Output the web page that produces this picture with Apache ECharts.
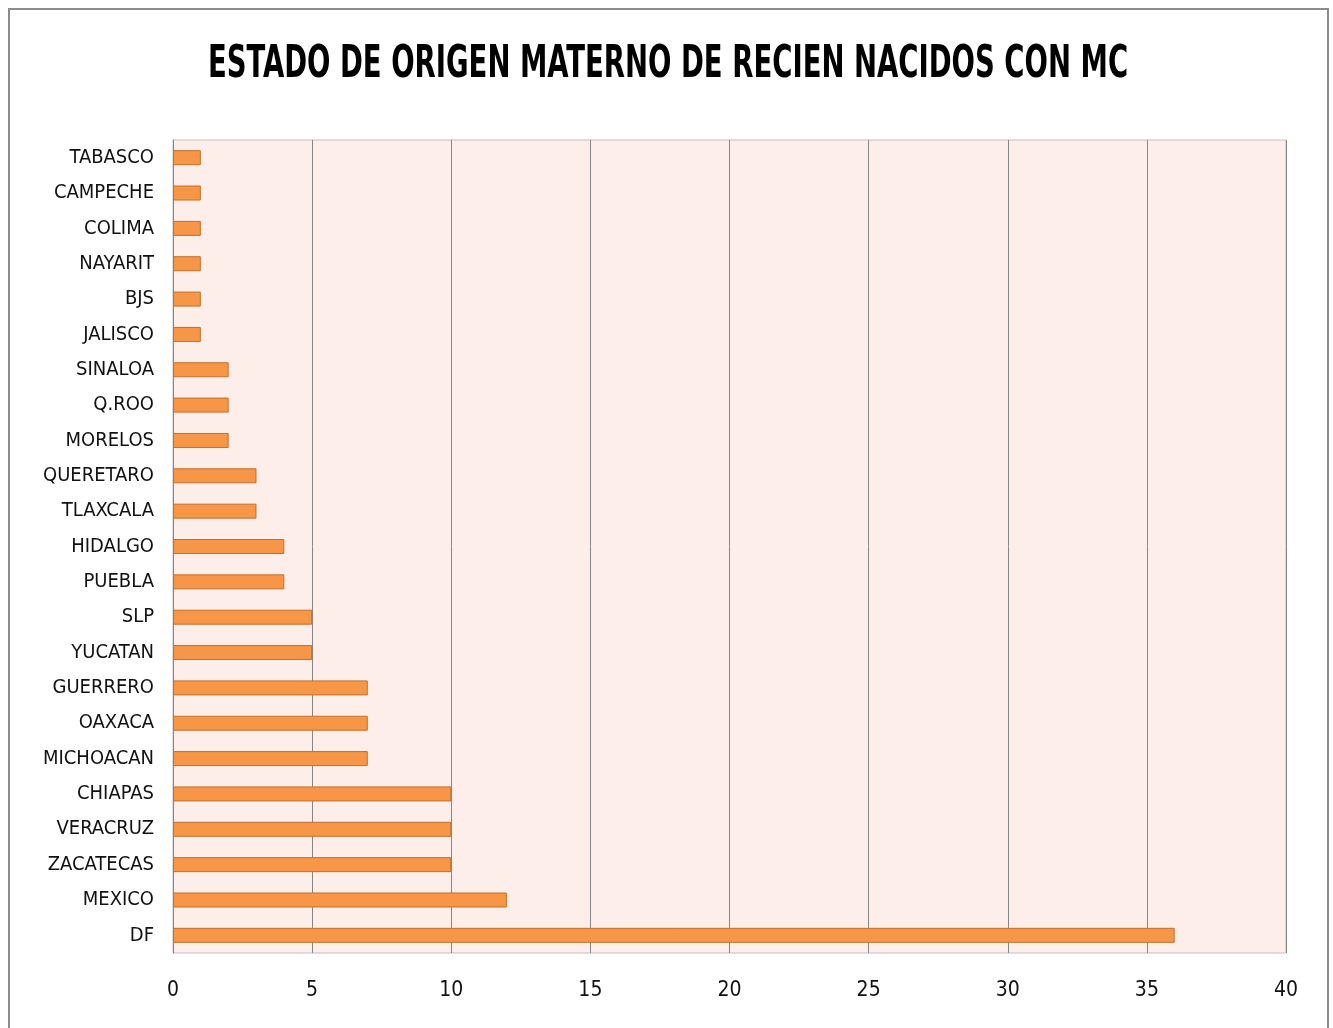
<!DOCTYPE html>
<html>
<head>
<meta charset="utf-8">
<script src="https://cdn.jsdelivr.net/npm/echarts@6/dist/echarts.min.js"></script>
<style>
html,body{margin:0;padding:0;background:#fff;}
#wrap{position:absolute;left:8px;top:8px;width:1321px;height:1030px;border:2px solid #8c8c8c;box-sizing:border-box;}
#chart{position:absolute;left:0;top:0;width:1333px;height:1028px;}
</style>
</head>
<body>
<div id="wrap"></div>
<div id="chart"></div>
<script>
// categories listed from bottom to top
var categories = ["DF","MEXICO","ZACATECAS","VERACRUZ","CHIAPAS","MICHOACAN","OAXACA","GUERRERO","YUCATAN","SLP","PUEBLA","HIDALGO","TLAXCALA","QUERETARO","MORELOS","Q.ROO","SINALOA","JALISCO","BJS","NAYARIT","COLIMA","CAMPECHE","TABASCO"];
var values = [36,12,10,10,10,7,7,7,5,5,4,4,3,3,2,2,2,1,1,1,1,1,1];
var xTicks = [0,5,10,15,20,25,30,35,40];
var titleText = "ESTADO DE ORIGEN MATERNO DE RECIEN NACIDOS CON MC";

var chart = echarts.init(document.getElementById('chart'));
var font = '"Liberation Sans Narrow","Arial Narrow","DejaVu Sans Condensed",sans-serif';
chart.setOption({
  animation:false,
  backgroundColor:'transparent',
  graphic:[{
    type:'text', x:668, y:66, scaleX:0.695, scaleY:1,
    style:{text:titleText, fontFamily:font, fontWeight:'bold', fontSize:44, fill:'#000', textAlign:'center', textVerticalAlign:'middle'}
  }],
  grid:{left:173,right:47,top:140,bottom:75,show:true,backgroundColor:'#FDEEEA',borderColor:'#BFBFBF',borderWidth:1},
  xAxis:{
    type:'value',min:xTicks[0],max:xTicks[xTicks.length-1],interval:5,
    axisLine:{show:false},axisTick:{show:false},
    axisLabel:{fontFamily:font,fontSize:21,color:'#111',margin:27},
    splitLine:{show:true,lineStyle:{color:'#868686',width:1}}
  },
  yAxis:{
    type:'category',data:categories,
    axisLine:{show:true,lineStyle:{color:'#868686',width:1}},
    axisTick:{show:false},
    axisLabel:{fontFamily:font,fontSize:20,color:'#111',margin:19,padding:[4,0,0,0]}
  },
  series:[{
    type:'bar',data:values,barWidth:15,
    itemStyle:{color:'#F79646',borderColor:'#C0702E',borderWidth:1}
  }]
});
</script>
</body>
</html>
